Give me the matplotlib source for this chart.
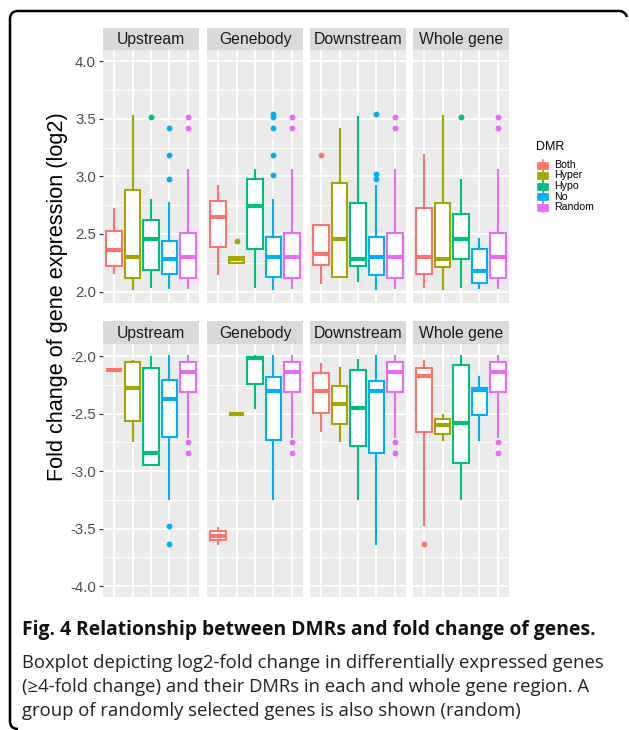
import matplotlib
matplotlib.use("Agg")
import matplotlib.pyplot as plt
import matplotlib.patches as mpatches
from matplotlib.path import Path

W, H = 629, 730

DMR = ["Both", "Hyper", "Hypo", "No", "Random"]
COLORS = ["#F8766D", "#A3A500", "#00BF7D", "#00B0F6", "#E76BF3"]
REGIONS = ["Upstream", "Genebody", "Downstream", "Whole gene"]

# box summaries per DMR: [whisker low, q1, median, q3, whisker high]
RANDOM_UP = [2.03, 2.12, 2.30, 2.51, 3.06]
RANDOM_UP_OUT = [3.52, 3.42]
RANDOM_DN = [-2.70, -2.31, -2.14, -2.05, -2.00]
RANDOM_DN_OUT = [-2.75, -2.84]

UP_UPSTREAM = [[2.16, 2.22, 2.36, 2.53, 2.72], [2.02, 2.12, 2.30, 2.88, 3.53],
               [2.04, 2.19, 2.46, 2.62, 2.80], [2.03, 2.15, 2.28, 2.44, 2.77], RANDOM_UP]
UP_UPSTREAM_OUT = [[], [], [3.52], [3.42, 3.19, 2.98], RANDOM_UP_OUT]
UP_GENEBODY = [[2.15, 2.39, 2.65, 2.79, 2.92], [2.25, 2.25, 2.28, 2.30, 2.30],
               [2.04, 2.37, 2.74, 2.98, 3.06], [2.02, 2.13, 2.30, 2.47, 2.80], RANDOM_UP]
UP_GENEBODY_OUT = [[], [2.44], [], [3.54, 3.52, 3.42, 3.19, 3.01], RANDOM_UP_OUT]
UP_DOWNSTREAM = [[2.07, 2.23, 2.33, 2.58, 2.58], [2.13, 2.13, 2.46, 2.94, 3.41],
                 [2.09, 2.22, 2.28, 2.77, 3.52], [2.02, 2.14, 2.30, 2.47, 2.92], RANDOM_UP]
UP_DOWNSTREAM_OUT = [[3.19], [], [], [3.54, 3.02, 2.98], RANDOM_UP_OUT]
UP_WHOLE = [[2.04, 2.15, 2.30, 2.73, 3.19], [2.02, 2.21, 2.28, 2.77, 3.53],
            [2.04, 2.28, 2.46, 2.67, 2.97], [2.03, 2.07, 2.18, 2.37, 2.46], RANDOM_UP]
UP_WHOLE_OUT = [[], [], [3.52], [], RANDOM_UP_OUT]

DN_UPSTREAM = [[-2.12, -2.12, -2.12, -2.12, -2.12], [-2.74, -2.56, -2.28, -2.05, -2.04],
               [-2.95, -2.95, -2.84, -2.10, -2.01], [-3.24, -2.70, -2.37, -2.21, -2.00], RANDOM_DN]
DN_UPSTREAM_OUT = [[], [], [], [-3.48, -3.63], RANDOM_DN_OUT]
DN_GENEBODY = [[-3.63, -3.60, -3.56, -3.52, -3.49], [-2.50, -2.50, -2.50, -2.50, -2.50],
               [-2.45, -2.24, -2.02, -2.01, -2.00], [-3.24, -2.73, -2.30, -2.18, -2.00], RANDOM_DN]
DN_GENEBODY_OUT = [[], [], [], [], RANDOM_DN_OUT]
DN_DOWNSTREAM = [[-2.65, -2.49, -2.30, -2.15, -2.07], [-2.74, -2.59, -2.42, -2.26, -2.10],
                 [-3.24, -2.78, -2.45, -2.12, -2.03], [-3.63, -2.84, -2.30, -2.22, -2.00], RANDOM_DN]
DN_DOWNSTREAM_OUT = [[], [], [], [], RANDOM_DN_OUT]
DN_WHOLE = [[-3.47, -2.66, -2.17, -2.10, -2.04], [-2.73, -2.68, -2.60, -2.55, -2.51],
            [-3.24, -2.93, -2.58, -2.08, -2.00], [-2.73, -2.51, -2.29, -2.28, -2.18], RANDOM_DN]
DN_WHOLE_OUT = [[-3.63], [], [], [], RANDOM_DN_OUT]

UP_TICKS = [2.0, 2.5, 3.0, 3.5, 4.0]
DN_TICKS = [-4.0, -3.5, -3.0, -2.5, -2.0]

CAPTION_TITLE = "Fig. 4 Relationship between DMRs and fold change of genes."
CAPTION_LINES = [
    "Boxplot depicting log2-fold change in differentially expressed genes",
    "(\u22654-fold change) and their DMRs in each and whole gene region. A",
    "group of randomly selected genes is also shown (random)",
]

plt.rcParams["font.family"] = ["Liberation Sans", "DejaVu Sans"]


def px_axes(fig, x0, y0, w, h):
    """Add axes using pixel coordinates measured from the top-left corner"""
    return fig.add_axes([x0 / W, 1 - (y0 + h) / H, w / W, h / H])


def draw_panel(fig, x0, y0, name, boxes, outliers, ylim, ticks, left):
    ax = px_axes(fig, x0, y0, 96, 253)
    ax.set_facecolor("#EBEBEB")
    for s in ax.spines.values():
        s.set_visible(False)

    stats = []
    for i, (b, out) in enumerate(zip(boxes, outliers)):
        stats.append({"whislo": b[0], "q1": b[1], "med": b[2], "q3": b[3],
                      "whishi": b[4], "fliers": out, "label": DMR[i]})
    res = ax.bxp(stats, positions=range(1, 6), widths=0.85, patch_artist=True,
                 showcaps=False, showfliers=True)
    for i, col in enumerate(COLORS):
        res["boxes"][i].set(facecolor="white", edgecolor=col, linewidth=1.5)
        res["medians"][i].set(color=col, linewidth=3.0, solid_capstyle="butt")
        for wl in res["whiskers"][2 * i:2 * i + 2]:
            wl.set(color=col, linewidth=1.5)
        res["fliers"][i].set(marker="o", markerfacecolor=col, markeredgecolor=col,
                             markersize=3.2)

    ax.set_xlim(0.4, 5.6)
    ax.set_ylim(*ylim)
    ax.set_xticks(range(1, 6))
    ax.set_yticks(ticks)
    minor = [t + 0.25 for t in ticks[:-1]]
    ax.set_yticks(minor, minor=True)
    ax.grid(True, which="major", color="white", linewidth=1.3)
    ax.grid(True, which="minor", axis="y", color="white", linewidth=0.65)
    ax.set_axisbelow(True)
    ax.tick_params(axis="x", which="both", length=0, labelbottom=False)
    ax.tick_params(axis="y", which="minor", length=0)
    if left:
        ax.set_yticklabels(["%.1f" % t for t in ticks])
        ax.tick_params(axis="y", which="major", length=3, color="#333333",
                       labelsize=10.8, labelcolor="#4D4D4D", pad=2)
    else:
        ax.tick_params(axis="y", which="major", length=0, labelleft=False)

    strip = px_axes(fig, x0, y0 - 22.5, 96, 22.5)
    strip.set_facecolor("#D9D9D9")
    strip.set_xticks([])
    strip.set_yticks([])
    for s in strip.spines.values():
        s.set_visible(False)
    strip.text(0.5, 0.45, name, ha="center", va="center", fontsize=11.3,
               color="#1A1A1A", transform=strip.transAxes)


def main():
    fig = plt.figure(figsize=(W / 100, H / 100), dpi=100)

    panel_x = [103, 207, 310, 413]
    up_sets = [(UP_UPSTREAM, UP_UPSTREAM_OUT), (UP_GENEBODY, UP_GENEBODY_OUT),
               (UP_DOWNSTREAM, UP_DOWNSTREAM_OUT), (UP_WHOLE, UP_WHOLE_OUT)]
    dn_sets = [(DN_UPSTREAM, DN_UPSTREAM_OUT), (DN_GENEBODY, DN_GENEBODY_OUT),
               (DN_DOWNSTREAM, DN_DOWNSTREAM_OUT), (DN_WHOLE, DN_WHOLE_OUT)]

    for i, (name, x0) in enumerate(zip(REGIONS, panel_x)):
        draw_panel(fig, x0, 50, name, up_sets[i][0], up_sets[i][1],
                   (1.9, 4.1), UP_TICKS, i == 0)
        draw_panel(fig, x0, 343.5, name, dn_sets[i][0], dn_sets[i][1],
                   (-4.09, -1.89), DN_TICKS, i == 0)

    # overlay in pixel units for label, legend, caption and frame
    ov = fig.add_axes([0, 0, 1, 1], facecolor="none")
    ov.set_xlim(0, W)
    ov.set_ylim(H, 0)
    ov.axis("off")

    ov.text(58, 297, "Fold change of gene expression (log2)", rotation=90,
            ha="center", va="center", fontsize=15.6, color="black")

    ov.text(536, 147, "DMR", ha="left", va="center", fontsize=9, color="black")
    for i, (name, col) in enumerate(zip(DMR, COLORS)):
        yc = 165 + i * 10.5
        ov.add_patch(mpatches.Rectangle((537, yc - 3.5), 11, 7, facecolor=col,
                                        edgecolor=col, linewidth=0.5))
        ov.plot([542.5, 542.5], [yc - 5, yc + 5], color=col, linewidth=1.2)
        ov.text(554, yc, name, ha="left", va="center", fontsize=7.6, color="black")

    ov.text(22, 630, CAPTION_TITLE, ha="left", va="center", fontsize=13.9,
            fontweight="bold", family=["Open Sans", "DejaVu Sans"], color="#111111")
    for i, line in enumerate(CAPTION_LINES):
        ov.text(22, 663 + i * 24, line, ha="left", va="center", fontsize=13.3,
                family=["Open Sans", "DejaVu Sans"], color="#222222")

    frame = Path([(627, 17), (625, 11), (619, 11), (18, 11), (10, 11), (10, 19),
                  (10, 721), (10, 729), (18, 729)],
                 [Path.MOVETO, Path.CURVE3, Path.CURVE3, Path.LINETO, Path.CURVE3,
                  Path.CURVE3, Path.LINETO, Path.CURVE3, Path.CURVE3])
    ov.add_patch(mpatches.PathPatch(frame, facecolor="none", edgecolor="black",
                                    linewidth=1.8, clip_on=False))

    fig.savefig("out.png", dpi=100)


if __name__ == "__main__":
    main()
